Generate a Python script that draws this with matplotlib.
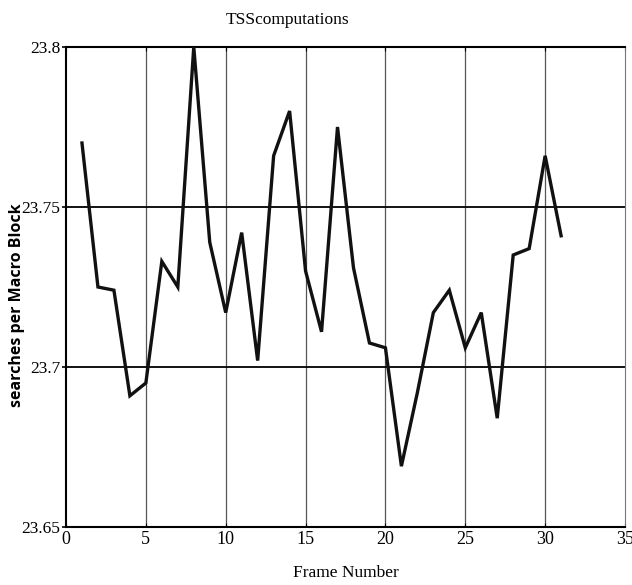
import matplotlib
matplotlib.use("Agg")
import matplotlib.pyplot as plt
from matplotlib.ticker import FixedLocator, FixedFormatter

# ---- data ------------------------------------------------------------------
frames = list(range(1, 32))
searches = [
    23.770, 23.725, 23.724, 23.691, 23.695, 23.733, 23.725, 23.800,
    23.739, 23.717, 23.742, 23.702, 23.766, 23.780, 23.730, 23.711,
    23.775, 23.731, 23.7075, 23.706, 23.669, 23.692, 23.717, 23.724,
    23.706, 23.717, 23.684, 23.735, 23.737, 23.766, 23.741,
]
xticks = [0, 5, 10, 15, 20, 25, 30, 35]
yticks = [23.65, 23.7, 23.75, 23.8]
ytick_labels = ["23.65", "23.7", "23.75", "23.8"]

plt.rcParams["font.family"] = ["Liberation Serif", "DejaVu Serif"]

W, H = 632, 585
fig = plt.figure(figsize=(W / 100, H / 100), dpi=100)
ax = fig.add_axes([66 / W, 1 - 527 / H, (625 - 66) / W, (527 - 47) / H])

# grid: thin grey verticals, black horizontals
for x in xticks[1:-1]:
    ax.axvline(x, color="#555555", linewidth=0.9, zorder=1)
for y in yticks[1:-1]:
    ax.axhline(y, color="black", linewidth=1.3, zorder=1)

ax.plot(frames, searches, color="#111111", linewidth=2.4, zorder=3,
        solid_joinstyle="miter")

ax.set_xlim(0, 35)
ax.set_ylim(23.65, 23.8)
ax.xaxis.set_major_locator(FixedLocator(xticks))
ax.yaxis.set_major_locator(FixedLocator(yticks))
ax.yaxis.set_major_formatter(FixedFormatter(ytick_labels))
ax.tick_params(axis="x", direction="in", length=3, width=0.8, labelsize=13,
               top=True, pad=3)
ax.tick_params(axis="y", length=3, width=1.2, labelsize=12.5, pad=1)

for side in ("left", "bottom", "top"):
    ax.spines[side].set_linewidth(1.5)
ax.spines["right"].set_linewidth(0.8)
ax.spines["right"].set_color("#777777")

fig.text(287 / W, 1 - 20 / H, "TSScomputations", fontsize=12.5,
         ha="center", va="center")
ax.set_xlabel("Frame Number", fontsize=12.5, labelpad=12)
fig.text(17 / W, 1 - 305 / H, "searches per Macro Block",
         family=["Open Sans", "DejaVu Sans"], fontweight="bold", fontsize=11.5,
         rotation=90, ha="center", va="center")

fig.savefig("out.png", dpi=100)
